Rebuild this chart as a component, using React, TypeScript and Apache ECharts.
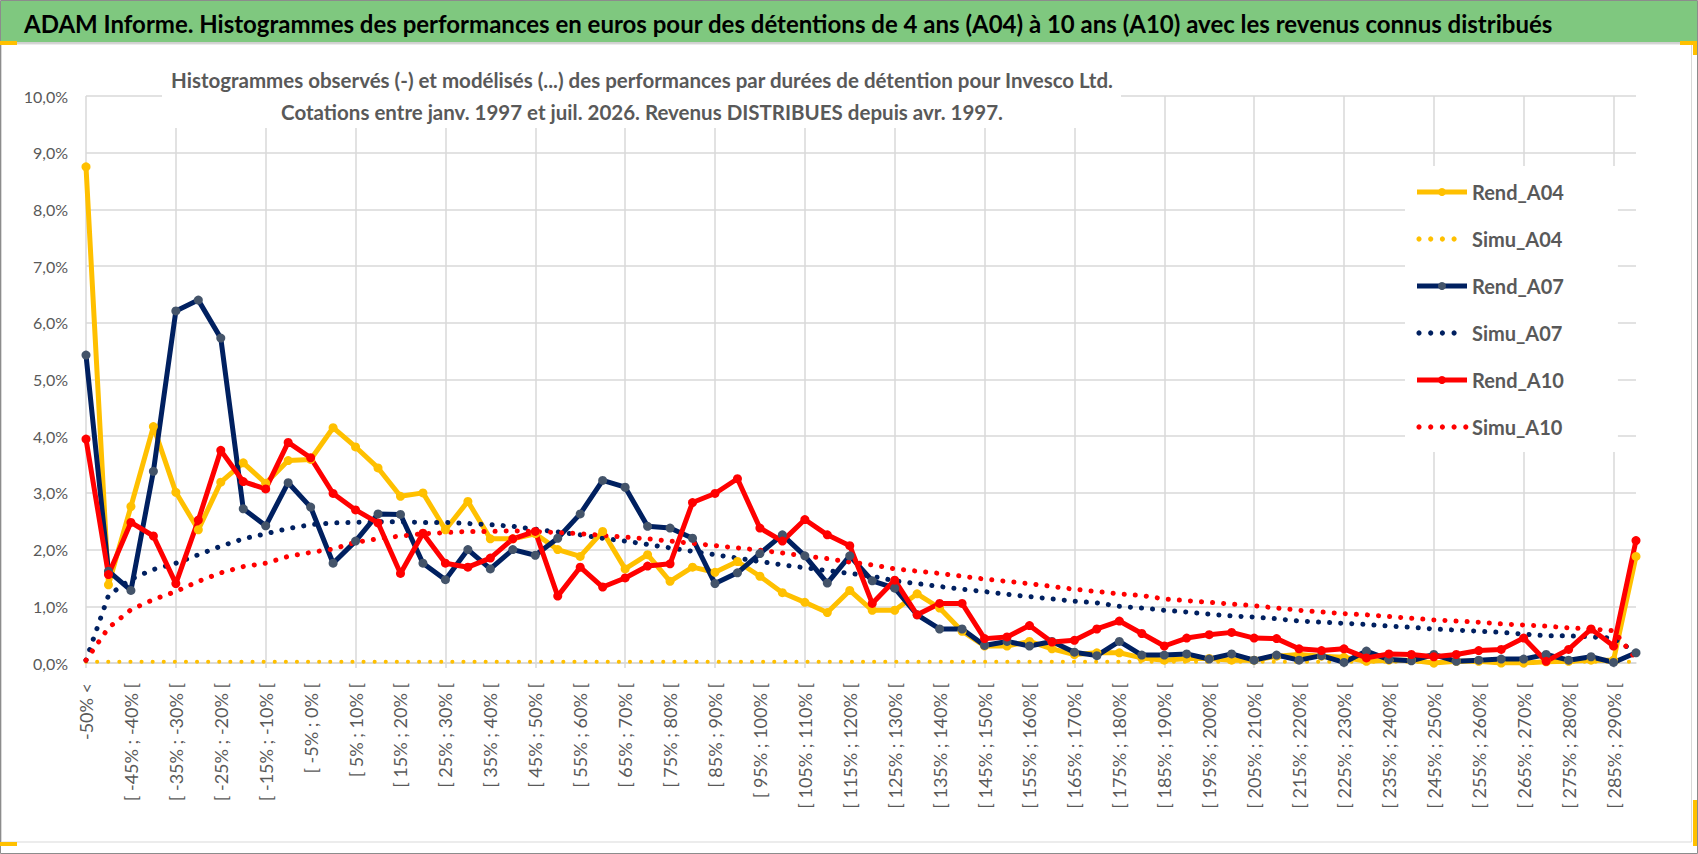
import * as echarts from "echarts";
import { useEffect, useRef } from "react";

// x categories (performance bins)
const categories = [
  "-50% <",
  "[ -50% ; -45% [", "[ -45% ; -40% [", "[ -40% ; -35% [", "[ -35% ; -30% [", "[ -30% ; -25% [",
  "[ -25% ; -20% [", "[ -20% ; -15% [", "[ -15% ; -10% [", "[ -10% ; -5% [", "[ -5% ; 0% [",
  "[ 0% ; 5% [", "[ 5% ; 10% [", "[ 10% ; 15% [", "[ 15% ; 20% [", "[ 20% ; 25% [",
  "[ 25% ; 30% [", "[ 30% ; 35% [", "[ 35% ; 40% [", "[ 40% ; 45% [", "[ 45% ; 50% [",
  "[ 50% ; 55% [", "[ 55% ; 60% [", "[ 60% ; 65% [", "[ 65% ; 70% [", "[ 70% ; 75% [",
  "[ 75% ; 80% [", "[ 80% ; 85% [", "[ 85% ; 90% [", "[ 90% ; 95% [", "[ 95% ; 100% [",
  "[ 100% ; 105% [", "[ 105% ; 110% [", "[ 110% ; 115% [", "[ 115% ; 120% [", "[ 120% ; 125% [",
  "[ 125% ; 130% [", "[ 130% ; 135% [", "[ 135% ; 140% [", "[ 140% ; 145% [", "[ 145% ; 150% [",
  "[ 150% ; 155% [", "[ 155% ; 160% [", "[ 160% ; 165% [", "[ 165% ; 170% [", "[ 170% ; 175% [",
  "[ 175% ; 180% [", "[ 180% ; 185% [", "[ 185% ; 190% [", "[ 190% ; 195% [", "[ 195% ; 200% [",
  "[ 200% ; 205% [", "[ 205% ; 210% [", "[ 210% ; 215% [", "[ 215% ; 220% [", "[ 220% ; 225% [",
  "[ 225% ; 230% [", "[ 230% ; 235% [", "[ 235% ; 240% [", "[ 240% ; 245% [", "[ 245% ; 250% [",
  "[ 250% ; 255% [", "[ 255% ; 260% [", "[ 260% ; 265% [", "[ 265% ; 270% [", "[ 270% ; 275% [",
  "[ 275% ; 280% [", "[ 280% ; 285% [", "[ 285% ; 290% [", "> 290%",
];

// observed histograms (%)
const rendA04 = [
  8.75, 1.38, 2.76, 4.17, 3.01, 2.35, 3.19, 3.53, 3.17, 3.57,
  3.59, 4.15, 3.81, 3.44, 2.94, 3.0, 2.35, 2.85, 2.19, 2.19,
  2.28, 2.0, 1.88, 2.32, 1.66, 1.91, 1.44, 1.69, 1.6, 1.79,
  1.53, 1.24, 1.07, 0.89, 1.28, 0.93, 0.93, 1.22, 0.97, 0.56,
  0.3, 0.3, 0.38, 0.25, 0.15, 0.18, 0.18, 0.09, 0.05, 0.08,
  0.08, 0.05, 0.05, 0.12, 0.15, 0.12, 0.1, 0.03, 0.05, 0.05,
  0.0, 0.03, 0.03, 0.0, 0.0, 0.02, 0.03, 0.05, 0.05, 1.88,
];
const rendA07 = [
  5.43, 1.62, 1.28, 3.38, 6.21, 6.4, 5.73, 2.72, 2.42, 3.18,
  2.75, 1.76, 2.15, 2.63, 2.62, 1.76, 1.47, 2.0, 1.66, 2.0,
  1.9, 2.2, 2.63, 3.22, 3.1, 2.41, 2.38, 2.2, 1.4, 1.59,
  1.93, 2.26, 1.89, 1.41, 1.89, 1.45, 1.32, 0.85, 0.6, 0.6,
  0.31, 0.38, 0.3, 0.38, 0.19, 0.13, 0.38, 0.14, 0.14, 0.16,
  0.07, 0.16, 0.05, 0.14, 0.05, 0.13, 0.01, 0.21, 0.06, 0.04,
  0.15, 0.03, 0.05, 0.07, 0.07, 0.15, 0.05, 0.11, 0.01, 0.18,
];
const rendA10 = [
  3.95, 1.56, 2.48, 2.24, 1.4, 2.52, 3.75, 3.2, 3.07, 3.89,
  3.62, 2.99, 2.7, 2.47, 1.58, 2.29, 1.76, 1.69, 1.85, 2.19,
  2.32, 1.18, 1.69, 1.34, 1.5, 1.71, 1.75, 2.83, 2.99, 3.25,
  2.38, 2.15, 2.53, 2.26, 2.07, 1.05, 1.46, 0.85, 1.05, 1.05,
  0.43, 0.46, 0.66, 0.37, 0.4, 0.6, 0.74, 0.52, 0.3, 0.44,
  0.5, 0.54, 0.44, 0.43, 0.25, 0.22, 0.25, 0.09, 0.16, 0.15,
  0.11, 0.15, 0.22, 0.24, 0.44, 0.03, 0.24, 0.6, 0.3, 2.16,
];

// modelled histograms (%)
const simuA04 = [
  0.02, 0.02, 0.02, 0.02, 0.02, 0.02, 0.02, 0.02, 0.02, 0.02,
  0.02, 0.02, 0.02, 0.02, 0.02, 0.02, 0.02, 0.02, 0.02, 0.02,
  0.02, 0.02, 0.02, 0.02, 0.02, 0.02, 0.02, 0.02, 0.02, 0.02,
  0.02, 0.02, 0.02, 0.02, 0.02, 0.02, 0.02, 0.02, 0.02, 0.02,
  0.02, 0.02, 0.02, 0.02, 0.02, 0.02, 0.02, 0.02, 0.02, 0.02,
  0.02, 0.02, 0.02, 0.02, 0.02, 0.02, 0.02, 0.02, 0.02, 0.02,
  0.02, 0.02, 0.02, 0.02, 0.02, 0.02, 0.02, 0.02, 0.02, 0.02,
];
const simuA07 = [
  0.05, 1.19, 1.48, 1.65, 1.76, 1.91, 2.06, 2.19, 2.28, 2.37,
  2.44, 2.47, 2.48, 2.49, 2.49, 2.48, 2.48, 2.46, 2.44, 2.41,
  2.36, 2.31, 2.26, 2.2, 2.15, 2.09, 2.03, 1.97, 1.91, 1.85,
  1.79, 1.73, 1.68, 1.63, 1.58, 1.53, 1.45, 1.4, 1.35, 1.3,
  1.26, 1.21, 1.17, 1.13, 1.09, 1.06, 1.0, 0.97, 0.93, 0.9,
  0.86, 0.83, 0.81, 0.78, 0.74, 0.72, 0.7, 0.68, 0.65, 0.63,
  0.6, 0.58, 0.56, 0.54, 0.51, 0.48, 0.48, 0.46, 0.44, 0.18,
];
const simuA10 = [
  0.05, 0.62, 0.94, 1.12, 1.26, 1.44, 1.59, 1.7, 1.76, 1.88,
  1.95, 2.01, 2.13, 2.19, 2.24, 2.28, 2.3, 2.32, 2.32, 2.33,
  2.32, 2.3, 2.28, 2.25, 2.22, 2.19, 2.15, 2.11, 2.07, 2.03,
  1.99, 1.94, 1.89, 1.84, 1.78, 1.73, 1.66, 1.62, 1.58, 1.53,
  1.48, 1.44, 1.4, 1.35, 1.3, 1.26, 1.22, 1.19, 1.13, 1.1,
  1.07, 1.04, 1.01, 0.97, 0.93, 0.9, 0.87, 0.85, 0.82, 0.79,
  0.76, 0.74, 0.72, 0.69, 0.67, 0.65, 0.62, 0.6, 0.57, 0.07,
];

const FONT = "Lato";
const GREY = "#595959";
const GRID = "#D9D9D9";
const GOLD = "#FFC000";
const NAVY = "#002060";
const SLATE = "#44546A";
const RED = "#FF0000";

const TITLE =
  "ADAM Informe. Histogrammes des performances en euros pour des détentions de 4 ans (A04) à 10 ans (A10) avec les revenus connus distribués";
const SUB1 =
  "Histogrammes observés (-) et modélisés (...) des performances par durées de détention pour Invesco Ltd.";
const SUB2 =
  "Cotations entre janv. 1997 et juil. 2026. Revenus DISTRIBUES depuis avr. 1997.";

// legend entries: name, line colour, marker colour (null = dotted model), dot count
const legendItems: [string, string, string | null, number][] = [
  ["Rend_A04", GOLD, GOLD, 0],
  ["Simu_A04", GOLD, null, 4],
  ["Rend_A07", NAVY, SLATE, 0],
  ["Simu_A07", NAVY, null, 4],
  ["Rend_A10", RED, RED, 0],
  ["Simu_A10", RED, null, 5],
];

const pct = (v: number) => v.toFixed(1).replace(".", ",") + "%";

function observed(name: string, data: number[], line: string, marker: string) {
  return {
    name,
    type: "line",
    data,
    z: 3,
    symbol: "circle",
    symbolSize: 9,
    showAllSymbol: true,
    lineStyle: { color: line, width: 5 },
    itemStyle: { color: marker },
  };
}

function modelled(name: string, data: number[], color: string, width = 5) {
  return {
    name,
    type: "line",
    data,
    z: 3,
    symbol: "none",
    lineStyle: { color, width, type: [0.1, 11], cap: "round" },
    itemStyle: { color },
  };
}

// legend swatches drawn next to the legend texts
function legendIcons() {
  const els: any[] = [];
  legendItems.forEach(([, line, marker, dots], k) => {
    const y = 192 + k * 47;
    if (marker) {
      els.push({ type: "line", z: 20, shape: { x1: 1417, y1: y, x2: 1467, y2: y }, style: { stroke: line, lineWidth: 5 } });
      els.push({ type: "circle", z: 21, shape: { cx: 1442, cy: y, r: 4 }, style: { fill: marker } });
    } else {
      for (let d = 0; d < dots; d++) {
        els.push({ type: "circle", z: 20, shape: { cx: 1419 + d * 11.7, cy: y, r: 2.6 }, style: { fill: line } });
      }
    }
  });
  return els;
}

const App = () => {
  const chartRef = useRef<HTMLDivElement>(null);

  useEffect(() => {
    if (!chartRef.current) {
      return;
    }
    const chart = echarts.init(chartRef.current, undefined, { renderer: "svg" });
    chart.setOption(getOptions());
    return () => {
      chart.dispose();
    };
  }, []);

  return (
    <div
      ref={chartRef}
      style={{ position: "absolute", left: 0, top: 0, width: 1698, height: 854 }}
    />
  );
};
export default App;

function getOptions() {
  return {
    animation: false,
    backgroundColor: "#fff",
    textStyle: { fontFamily: FONT },
    graphic: [
      { type: "rect", shape: { x: 0.5, y: 0.5, width: 1697, height: 853 }, style: { fill: "none", stroke: "#8C8C8C", lineWidth: 1 } },
      { type: "rect", shape: { x: 1, y: 1, width: 1696, height: 41 }, style: { fill: "#7FC87F" } },
      { type: "line", shape: { x1: 1, y1: 43, x2: 1697, y2: 43 }, style: { stroke: "#D0D0D0", lineWidth: 2 } },
      { type: "rect", shape: { x: 1.5, y: 44, width: 1690, height: 798 }, style: { fill: "none", stroke: GRID, lineWidth: 1 } },
      { type: "rect", shape: { x: 0, y: 41, width: 17, height: 4 }, style: { fill: GOLD } },
      { type: "rect", shape: { x: 1680, y: 41, width: 17, height: 4 }, style: { fill: GOLD } },
      { type: "rect", shape: { x: 1693, y: 41, width: 4, height: 14 }, style: { fill: GOLD } },
      { type: "rect", shape: { x: 0, y: 842, width: 17, height: 4 }, style: { fill: GOLD } },
      { type: "rect", shape: { x: 1693, y: 800, width: 4, height: 46 }, style: { fill: GOLD } },
      {
        type: "text",
        x: 24,
        y: 23,
        style: { text: TITLE, fontFamily: FONT, fontSize: 24, fontWeight: "bold", fill: "#000", textVerticalAlign: "middle" },
      },
      // white box behind the chart subtitle
      { type: "rect", z: 10, shape: { x: 162, y: 62, width: 959, height: 66 }, style: { fill: "#fff" } },
      {
        type: "text",
        z: 11,
        x: 642,
        y: 80,
        style: { text: SUB1, fontFamily: FONT, fontSize: 20.5, fontWeight: "bold", fill: GREY, textAlign: "center", textVerticalAlign: "middle" },
      },
      {
        type: "text",
        z: 11,
        x: 642,
        y: 112,
        style: { text: SUB2, fontFamily: FONT, fontSize: 20.5, fontWeight: "bold", fill: GREY, textAlign: "center", textVerticalAlign: "middle" },
      },
      ...legendIcons(),
    ],
    grid: { left: 86, right: 62, top: 96, bottom: 191, containLabel: false },
    legend: {
      orient: "vertical",
      left: 1405,
      top: 166,
      padding: [15, 54, 14, 12],
      backgroundColor: "#fff",
      itemWidth: 50,
      itemHeight: 9,
      itemGap: 25,
      icon: "rect",
      itemStyle: { color: "rgba(0,0,0,0)", borderWidth: 0 },
      lineStyle: { width: 0 },
      textStyle: { fontFamily: FONT, fontSize: 20, lineHeight: 22, fontWeight: "bold", color: GREY },
      data: legendItems.map((d) => d[0]),
    },
    xAxis: {
      type: "category",
      data: categories,
      boundaryGap: false,
      axisLine: { lineStyle: { color: GRID, width: 1.5 } },
      axisTick: { show: true, interval: 3, length: 5, lineStyle: { color: GRID, width: 1.5 } },
      splitLine: { show: true, interval: 3, lineStyle: { color: GRID, width: 1.5 } },
      axisLabel: { interval: 1, rotate: 90, margin: 20, fontFamily: FONT, fontSize: 18, color: GREY },
    },
    yAxis: {
      type: "value",
      min: 0,
      max: 10,
      interval: 1,
      axisLine: { show: false },
      axisTick: { show: false },
      splitLine: { lineStyle: { color: GRID, width: 1.5 } },
      axisLabel: { formatter: pct, margin: 18, fontFamily: FONT, fontSize: 16, color: GREY },
    },
    series: [
      observed("Rend_A04", rendA04, GOLD, GOLD),
      modelled("Simu_A04", simuA04, GOLD, 4),
      observed("Rend_A07", rendA07, NAVY, SLATE),
      modelled("Simu_A07", simuA07, NAVY),
      observed("Rend_A10", rendA10, RED, RED),
      modelled("Simu_A10", simuA10, RED),
    ],
  };
}
